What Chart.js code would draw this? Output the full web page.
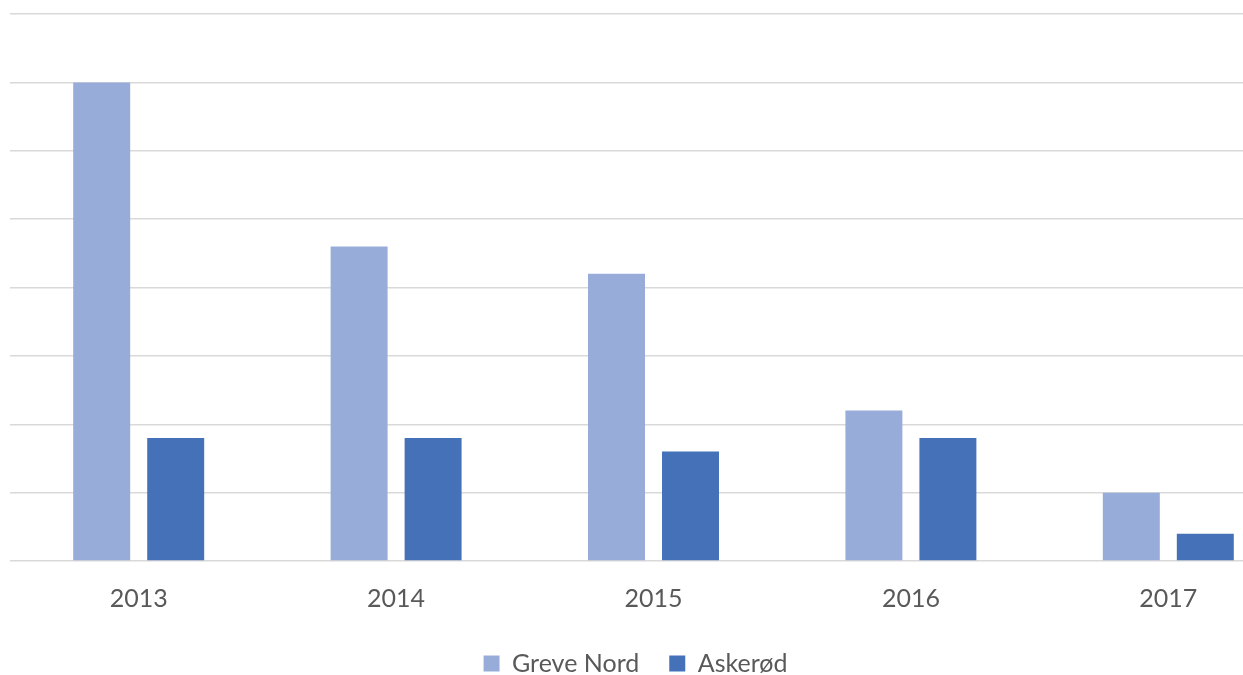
<!DOCTYPE html>
<html>
<head>
<meta charset="utf-8">
<script src="https://cdn.jsdelivr.net/npm/chart.js@4"></script>
<style>
  html, body { margin: 0; padding: 0; background: #fff; overflow: hidden; }
  #wrap { width: 1297px; height: 675px; }
</style>
</head>
<body>
<div id="wrap"><canvas id="myChart"></canvas></div>
<script>
const years = ['2013', '2014', '2015', '2016', '2017'];
const greveNord = [7.0, 4.6, 4.2, 2.2, 1.0];
const askerod = [1.8, 1.8, 1.6, 1.8, 0.4];

// legend sits a little left of the plot centre (and a bit higher) in the original
const shiftLegend = {
  id: 'shiftLegend',
  afterLayout(chart) {
    const lg = chart.legend;
    lg.left -= 18;
    lg.right -= 18;
    lg.top -= 8;
    lg.bottom -= 8;
  }
};

new Chart(document.getElementById('myChart'), {
  type: 'bar',
  data: {
    labels: years,
    datasets: [{
      label: 'Greve Nord',
      data: greveNord,
      backgroundColor: '#98acd9'
    }, {
      label: 'Askerød',
      data: askerod,
      backgroundColor: '#4471b8'
    }]
  },
  options: {
    responsive: true,
    maintainAspectRatio: false,
    animation: false,
    categoryPercentage: 0.575,
    barPercentage: 0.77,
    layout: { padding: { left: 10, top: 14, right: 0, bottom: -19 } },
    plugins: {
      tooltip: { enabled: false },
      legend: {
        position: 'bottom',
        labels: {
          font: { family: 'Lato', size: 25 },
          color: '#595959',
          boxWidth: 16,
          boxHeight: 16,
          padding: 30
        }
      }
    },
    scales: {
      x: {
        grid: { display: false },
        border: { display: false },
        ticks: {
          font: { family: 'Lato', size: 25 },
          color: '#595959',
          padding: 15
        }
      },
      y: {
        min: 0,
        max: 8,
        ticks: { display: false, stepSize: 1 },
        grid: { color: '#d9d9d9', lineWidth: 1.5, drawTicks: false },
        border: { display: false }
      }
    }
  },
  plugins: [shiftLegend]
});
</script>
</body>
</html>
